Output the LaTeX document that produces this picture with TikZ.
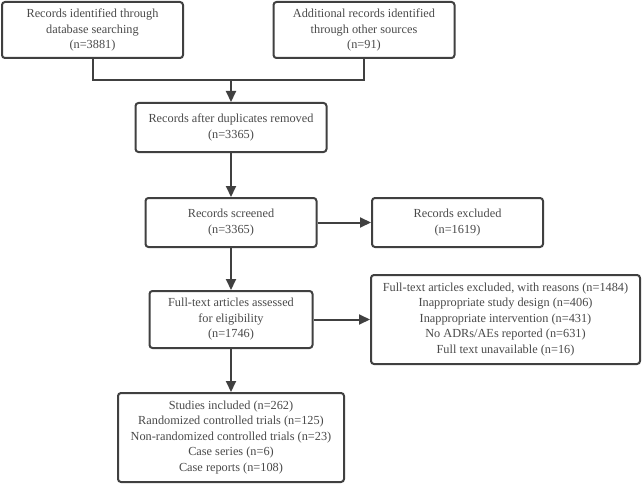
\documentclass[tikz,border=0pt]{standalone}
\usepackage{fontspec}
\setmainfont{Liberation Serif}
\usetikzlibrary{arrows.meta}
\definecolor{edge}{HTML}{404040}
\definecolor{txt}{HTML}{4A4A4A}
\tikzset{
  x=1pt, y=-1pt,
  box/.style={draw=edge, line width=2pt, rounded corners=3pt, fill=white,
    align=center, text=txt, inner sep=0pt,
    font=\fontsize{12.3pt}{15.5pt}\selectfont},
  conn/.style={draw=edge, line width=2pt},
  arr/.style={conn, -{Triangle[length=11pt,width=10pt]}}
}
\begin{document}
\begin{tikzpicture}
\useasboundingbox (0,0) rectangle (642,484);
\node[box, minimum width=181pt, minimum height=56pt] (b1) at (92.5,30)
  {Records identified through\\database searching\\(n=3881)};
\node[box, minimum width=181pt, minimum height=56pt] (b2) at (364,30)
  {Additional records identified\\through other sources\\(n=91)};
\node[box, minimum width=191pt, minimum height=49pt] (b3) at (231,127.5)
  {Records after duplicates removed\\(n=3365)};
\node[box, minimum width=171pt, minimum height=49pt] (b4) at (231,222.5)
  {Records screened\\(n=3365)};
\node[box, minimum width=171pt, minimum height=49pt] (b5) at (457.5,222.5)
  {Records excluded\\(n=1619)};
\node[box, minimum width=163pt, minimum height=57pt] (b6) at (231,319.5)
  {Full-text articles assessed\\for eligibility\\(n=1746)};
\node[box, minimum width=269pt, minimum height=89pt] (b7) at (505.5,319.5)
  {Full-text articles excluded, with reasons (n=1484)\\Inappropriate study design (n=406)\\Inappropriate intervention (n=431)\\No ADRs/AEs reported (n=631)\\Full text unavailable (n=16)};
\node[box, minimum width=226pt, minimum height=89pt] (b8) at (231,437.5)
  {Studies included (n=262)\\Randomized controlled trials (n=125)\\Non-randomized controlled trials (n=23)\\Case series (n=6)\\Case reports (n=108)};
\coordinate (j) at (231,80);
\draw[conn] (b1.south) -- (b1.south |- j) -- (b2.south |- j) -- (b2.south);
\draw[arr] (j) -- (b3.north);
\draw[arr] (b3.south) -- (b4.north);
\draw[arr] (b4.east) -- (b5.west);
\draw[arr] (b4.south) -- (b6.north);
\draw[arr] (b6.east) -- (b7.west);
\draw[arr] (b6.south) -- (b8.north);
\end{tikzpicture}
\end{document}
